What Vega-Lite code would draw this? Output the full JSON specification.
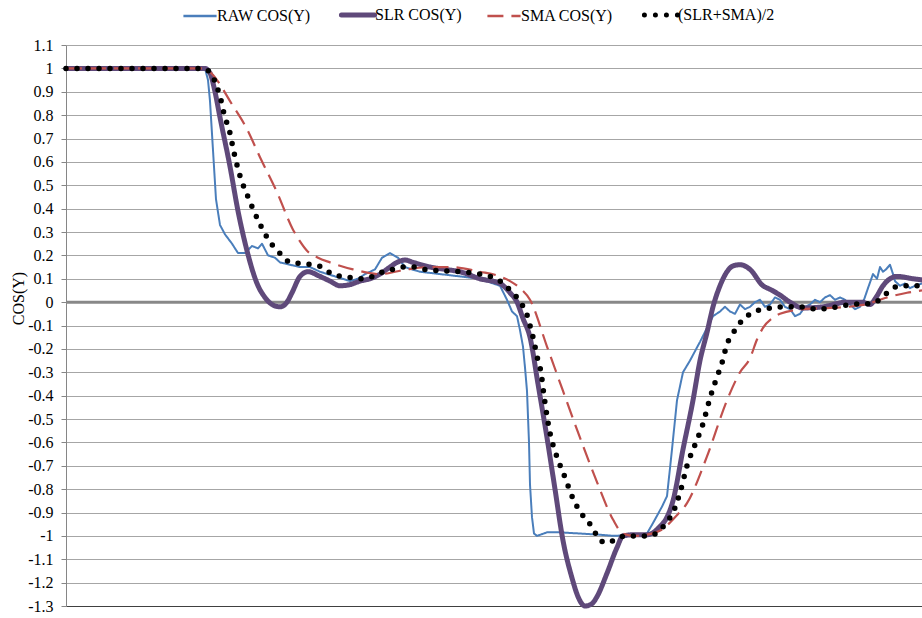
{
"$schema":"https://vega.github.io/schema/vega-lite/v6.json",
"width":856,"height":561,
"autosize":{"type":"none"},
"padding":{"left":66,"top":45,"right":0,"bottom":12},
"background":"white",
"config":{"view":{"stroke":null},"font":"Liberation Serif"},
"data":{"values":[
{"s":"RAW COS(Y)","t":0,"v":1},{"s":"RAW COS(Y)","t":34,"v":1},{"s":"RAW COS(Y)","t":74,"v":1},{"s":"RAW COS(Y)","t":114,"v":1},{"s":"RAW COS(Y)","t":139,"v":1},{"s":"RAW COS(Y)","t":142,"v":0.95},{"s":"RAW COS(Y)","t":144,"v":0.86},{"s":"RAW COS(Y)","t":147,"v":0.65},{"s":"RAW COS(Y)","t":150,"v":0.44},{"s":"RAW COS(Y)","t":154,"v":0.33},{"s":"RAW COS(Y)","t":159,"v":0.29},{"s":"RAW COS(Y)","t":166,"v":0.25},{"s":"RAW COS(Y)","t":172,"v":0.21},{"s":"RAW COS(Y)","t":179,"v":0.21},{"s":"RAW COS(Y)","t":186,"v":0.24},{"s":"RAW COS(Y)","t":192,"v":0.23},{"s":"RAW COS(Y)","t":196,"v":0.25},{"s":"RAW COS(Y)","t":202,"v":0.2},{"s":"RAW COS(Y)","t":209,"v":0.19},{"s":"RAW COS(Y)","t":214,"v":0.17},{"s":"RAW COS(Y)","t":224,"v":0.16},{"s":"RAW COS(Y)","t":234,"v":0.15},{"s":"RAW COS(Y)","t":244,"v":0.15},{"s":"RAW COS(Y)","t":254,"v":0.13},{"s":"RAW COS(Y)","t":269,"v":0.11},{"s":"RAW COS(Y)","t":284,"v":0.09},{"s":"RAW COS(Y)","t":292,"v":0.1},{"s":"RAW COS(Y)","t":299,"v":0.12},{"s":"RAW COS(Y)","t":309,"v":0.14},{"s":"RAW COS(Y)","t":316,"v":0.19},{"s":"RAW COS(Y)","t":324,"v":0.21},{"s":"RAW COS(Y)","t":332,"v":0.19},{"s":"RAW COS(Y)","t":339,"v":0.15},{"s":"RAW COS(Y)","t":346,"v":0.14},{"s":"RAW COS(Y)","t":354,"v":0.13},{"s":"RAW COS(Y)","t":374,"v":0.12},{"s":"RAW COS(Y)","t":394,"v":0.11},{"s":"RAW COS(Y)","t":414,"v":0.1},{"s":"RAW COS(Y)","t":427,"v":0.08},{"s":"RAW COS(Y)","t":434,"v":0.07},{"s":"RAW COS(Y)","t":441,"v":0.01},{"s":"RAW COS(Y)","t":446,"v":-0.04},{"s":"RAW COS(Y)","t":451,"v":-0.06},{"s":"RAW COS(Y)","t":454,"v":-0.12},{"s":"RAW COS(Y)","t":457,"v":-0.19},{"s":"RAW COS(Y)","t":459,"v":-0.28},{"s":"RAW COS(Y)","t":461,"v":-0.38},{"s":"RAW COS(Y)","t":463,"v":-0.6},{"s":"RAW COS(Y)","t":464,"v":-0.78},{"s":"RAW COS(Y)","t":466,"v":-0.92},{"s":"RAW COS(Y)","t":468,"v":-0.99},{"s":"RAW COS(Y)","t":471,"v":-1.0},{"s":"RAW COS(Y)","t":481,"v":-0.985},{"s":"RAW COS(Y)","t":494,"v":-0.985},{"s":"RAW COS(Y)","t":514,"v":-0.99},{"s":"RAW COS(Y)","t":534,"v":-0.995},{"s":"RAW COS(Y)","t":547,"v":-1.0},{"s":"RAW COS(Y)","t":574,"v":-0.995},{"s":"RAW COS(Y)","t":581,"v":-0.99},{"s":"RAW COS(Y)","t":587,"v":-0.945},{"s":"RAW COS(Y)","t":596,"v":-0.875},{"s":"RAW COS(Y)","t":601,"v":-0.83},{"s":"RAW COS(Y)","t":606,"v":-0.63},{"s":"RAW COS(Y)","t":611,"v":-0.42},{"s":"RAW COS(Y)","t":617,"v":-0.3},{"s":"RAW COS(Y)","t":624,"v":-0.25},{"s":"RAW COS(Y)","t":634,"v":-0.17},{"s":"RAW COS(Y)","t":647,"v":-0.06},{"s":"RAW COS(Y)","t":654,"v":-0.04},{"s":"RAW COS(Y)","t":659,"v":-0.02},{"s":"RAW COS(Y)","t":664,"v":-0.04},{"s":"RAW COS(Y)","t":669,"v":-0.05},{"s":"RAW COS(Y)","t":674,"v":-0.01},{"s":"RAW COS(Y)","t":679,"v":-0.03},{"s":"RAW COS(Y)","t":684,"v":-0.02},{"s":"RAW COS(Y)","t":689,"v":0.0},{"s":"RAW COS(Y)","t":694,"v":0.01},{"s":"RAW COS(Y)","t":699,"v":-0.02},{"s":"RAW COS(Y)","t":704,"v":-0.01},{"s":"RAW COS(Y)","t":709,"v":0.02},{"s":"RAW COS(Y)","t":714,"v":0.01},{"s":"RAW COS(Y)","t":719,"v":-0.02},{"s":"RAW COS(Y)","t":724,"v":-0.03},{"s":"RAW COS(Y)","t":729,"v":-0.06},{"s":"RAW COS(Y)","t":734,"v":-0.05},{"s":"RAW COS(Y)","t":739,"v":-0.02},{"s":"RAW COS(Y)","t":744,"v":-0.01},{"s":"RAW COS(Y)","t":749,"v":0.01},{"s":"RAW COS(Y)","t":754,"v":0.0},{"s":"RAW COS(Y)","t":759,"v":0.02},{"s":"RAW COS(Y)","t":764,"v":0.03},{"s":"RAW COS(Y)","t":769,"v":0.01},{"s":"RAW COS(Y)","t":774,"v":0.02},{"s":"RAW COS(Y)","t":779,"v":0.01},{"s":"RAW COS(Y)","t":784,"v":-0.01},{"s":"RAW COS(Y)","t":789,"v":-0.03},{"s":"RAW COS(Y)","t":794,"v":-0.02},{"s":"RAW COS(Y)","t":798,"v":0.01},{"s":"RAW COS(Y)","t":802,"v":0.06},{"s":"RAW COS(Y)","t":807,"v":0.12},{"s":"RAW COS(Y)","t":811,"v":0.1},{"s":"RAW COS(Y)","t":814,"v":0.15},{"s":"RAW COS(Y)","t":817,"v":0.13},{"s":"RAW COS(Y)","t":820,"v":0.14},{"s":"RAW COS(Y)","t":824,"v":0.16},{"s":"RAW COS(Y)","t":827,"v":0.12},{"s":"RAW COS(Y)","t":829,"v":0.09},{"s":"RAW COS(Y)","t":834,"v":0.07},{"s":"RAW COS(Y)","t":839,"v":0.08},{"s":"RAW COS(Y)","t":844,"v":0.06},{"s":"RAW COS(Y)","t":849,"v":0.07},{"s":"RAW COS(Y)","t":856,"v":0.08},
{"s":"SLR COS(Y)","t":0,"v":1},{"s":"SLR COS(Y)","t":139,"v":1},{"s":"SLR COS(Y)","t":144,"v":0.98},{"s":"SLR COS(Y)","t":149,"v":0.9},{"s":"SLR COS(Y)","t":154,"v":0.79},{"s":"SLR COS(Y)","t":164,"v":0.58},{"s":"SLR COS(Y)","t":172,"v":0.39},{"s":"SLR COS(Y)","t":181,"v":0.22},{"s":"SLR COS(Y)","t":191,"v":0.08},{"s":"SLR COS(Y)","t":199,"v":0.02},{"s":"SLR COS(Y)","t":206,"v":-0.01},{"s":"SLR COS(Y)","t":214,"v":-0.02},{"s":"SLR COS(Y)","t":221,"v":0.0},{"s":"SLR COS(Y)","t":226,"v":0.04},{"s":"SLR COS(Y)","t":234,"v":0.11},{"s":"SLR COS(Y)","t":242,"v":0.13},{"s":"SLR COS(Y)","t":254,"v":0.11},{"s":"SLR COS(Y)","t":264,"v":0.09},{"s":"SLR COS(Y)","t":274,"v":0.07},{"s":"SLR COS(Y)","t":284,"v":0.075},{"s":"SLR COS(Y)","t":294,"v":0.09},{"s":"SLR COS(Y)","t":304,"v":0.1},{"s":"SLR COS(Y)","t":314,"v":0.12},{"s":"SLR COS(Y)","t":324,"v":0.15},{"s":"SLR COS(Y)","t":331,"v":0.17},{"s":"SLR COS(Y)","t":339,"v":0.18},{"s":"SLR COS(Y)","t":347,"v":0.17},{"s":"SLR COS(Y)","t":364,"v":0.15},{"s":"SLR COS(Y)","t":379,"v":0.14},{"s":"SLR COS(Y)","t":394,"v":0.13},{"s":"SLR COS(Y)","t":414,"v":0.1},{"s":"SLR COS(Y)","t":434,"v":0.08},{"s":"SLR COS(Y)","t":444,"v":0.04},{"s":"SLR COS(Y)","t":451,"v":0.0},{"s":"SLR COS(Y)","t":457,"v":-0.07},{"s":"SLR COS(Y)","t":464,"v":-0.15},{"s":"SLR COS(Y)","t":472,"v":-0.35},{"s":"SLR COS(Y)","t":481,"v":-0.58},{"s":"SLR COS(Y)","t":489,"v":-0.8},{"s":"SLR COS(Y)","t":497,"v":-1.02},{"s":"SLR COS(Y)","t":506,"v":-1.18},{"s":"SLR COS(Y)","t":512,"v":-1.26},{"s":"SLR COS(Y)","t":519,"v":-1.3},{"s":"SLR COS(Y)","t":526,"v":-1.29},{"s":"SLR COS(Y)","t":531,"v":-1.26},{"s":"SLR COS(Y)","t":541,"v":-1.16},{"s":"SLR COS(Y)","t":551,"v":-1.05},{"s":"SLR COS(Y)","t":557,"v":-1.0},{"s":"SLR COS(Y)","t":569,"v":-0.995},{"s":"SLR COS(Y)","t":581,"v":-0.995},{"s":"SLR COS(Y)","t":594,"v":-0.96},{"s":"SLR COS(Y)","t":601,"v":-0.92},{"s":"SLR COS(Y)","t":607,"v":-0.85},{"s":"SLR COS(Y)","t":617,"v":-0.63},{"s":"SLR COS(Y)","t":627,"v":-0.42},{"s":"SLR COS(Y)","t":634,"v":-0.25},{"s":"SLR COS(Y)","t":641,"v":-0.13},{"s":"SLR COS(Y)","t":647,"v":-0.02},{"s":"SLR COS(Y)","t":654,"v":0.07},{"s":"SLR COS(Y)","t":661,"v":0.13},{"s":"SLR COS(Y)","t":667,"v":0.155},{"s":"SLR COS(Y)","t":674,"v":0.16},{"s":"SLR COS(Y)","t":684,"v":0.14},{"s":"SLR COS(Y)","t":697,"v":0.07},{"s":"SLR COS(Y)","t":704,"v":0.055},{"s":"SLR COS(Y)","t":714,"v":0.03},{"s":"SLR COS(Y)","t":724,"v":0.0},{"s":"SLR COS(Y)","t":737,"v":-0.025},{"s":"SLR COS(Y)","t":757,"v":-0.02},{"s":"SLR COS(Y)","t":781,"v":0.0},{"s":"SLR COS(Y)","t":796,"v":0.0},{"s":"SLR COS(Y)","t":804,"v":-0.01},{"s":"SLR COS(Y)","t":810,"v":0.02},{"s":"SLR COS(Y)","t":817,"v":0.07},{"s":"SLR COS(Y)","t":824,"v":0.1},{"s":"SLR COS(Y)","t":831,"v":0.11},{"s":"SLR COS(Y)","t":847,"v":0.1},{"s":"SLR COS(Y)","t":856,"v":0.095},
{"s":"SMA COS(Y)","t":0,"v":1},{"s":"SMA COS(Y)","t":139,"v":1},{"s":"SMA COS(Y)","t":144,"v":0.985},{"s":"SMA COS(Y)","t":151,"v":0.95},{"s":"SMA COS(Y)","t":164,"v":0.86},{"s":"SMA COS(Y)","t":181,"v":0.74},{"s":"SMA COS(Y)","t":194,"v":0.62},{"s":"SMA COS(Y)","t":211,"v":0.47},{"s":"SMA COS(Y)","t":227,"v":0.31},{"s":"SMA COS(Y)","t":234,"v":0.26},{"s":"SMA COS(Y)","t":241,"v":0.22},{"s":"SMA COS(Y)","t":252,"v":0.19},{"s":"SMA COS(Y)","t":264,"v":0.17},{"s":"SMA COS(Y)","t":287,"v":0.14},{"s":"SMA COS(Y)","t":314,"v":0.12},{"s":"SMA COS(Y)","t":341,"v":0.14},{"s":"SMA COS(Y)","t":364,"v":0.15},{"s":"SMA COS(Y)","t":384,"v":0.15},{"s":"SMA COS(Y)","t":414,"v":0.13},{"s":"SMA COS(Y)","t":434,"v":0.11},{"s":"SMA COS(Y)","t":444,"v":0.09},{"s":"SMA COS(Y)","t":454,"v":0.06},{"s":"SMA COS(Y)","t":464,"v":0.01},{"s":"SMA COS(Y)","t":481,"v":-0.19},{"s":"SMA COS(Y)","t":497,"v":-0.38},{"s":"SMA COS(Y)","t":514,"v":-0.58},{"s":"SMA COS(Y)","t":531,"v":-0.77},{"s":"SMA COS(Y)","t":547,"v":-0.93},{"s":"SMA COS(Y)","t":557,"v":-0.99},{"s":"SMA COS(Y)","t":569,"v":-1.0},{"s":"SMA COS(Y)","t":581,"v":-0.995},{"s":"SMA COS(Y)","t":597,"v":-0.97},{"s":"SMA COS(Y)","t":609,"v":-0.92},{"s":"SMA COS(Y)","t":621,"v":-0.86},{"s":"SMA COS(Y)","t":641,"v":-0.66},{"s":"SMA COS(Y)","t":661,"v":-0.42},{"s":"SMA COS(Y)","t":674,"v":-0.3},{"s":"SMA COS(Y)","t":684,"v":-0.24},{"s":"SMA COS(Y)","t":691,"v":-0.16},{"s":"SMA COS(Y)","t":697,"v":-0.11},{"s":"SMA COS(Y)","t":706,"v":-0.07},{"s":"SMA COS(Y)","t":714,"v":-0.05},{"s":"SMA COS(Y)","t":737,"v":-0.03},{"s":"SMA COS(Y)","t":764,"v":-0.025},{"s":"SMA COS(Y)","t":797,"v":-0.012},{"s":"SMA COS(Y)","t":821,"v":0.02},{"s":"SMA COS(Y)","t":841,"v":0.04},{"s":"SMA COS(Y)","t":856,"v":0.05},
{"s":"(SLR+SMA)/2","t":0,"v":1},{"s":"(SLR+SMA)/2","t":137,"v":1},{"s":"(SLR+SMA)/2","t":146,"v":0.97},{"s":"(SLR+SMA)/2","t":151,"v":0.92},{"s":"(SLR+SMA)/2","t":154,"v":0.88},{"s":"(SLR+SMA)/2","t":159,"v":0.79},{"s":"(SLR+SMA)/2","t":163,"v":0.74},{"s":"(SLR+SMA)/2","t":168,"v":0.64},{"s":"(SLR+SMA)/2","t":174,"v":0.54},{"s":"(SLR+SMA)/2","t":182,"v":0.45},{"s":"(SLR+SMA)/2","t":191,"v":0.36},{"s":"(SLR+SMA)/2","t":202,"v":0.27},{"s":"(SLR+SMA)/2","t":216,"v":0.2},{"s":"(SLR+SMA)/2","t":224,"v":0.17},{"s":"(SLR+SMA)/2","t":236,"v":0.165},{"s":"(SLR+SMA)/2","t":247,"v":0.16},{"s":"(SLR+SMA)/2","t":256,"v":0.15},{"s":"(SLR+SMA)/2","t":266,"v":0.12},{"s":"(SLR+SMA)/2","t":276,"v":0.11},{"s":"(SLR+SMA)/2","t":286,"v":0.105},{"s":"(SLR+SMA)/2","t":296,"v":0.1},{"s":"(SLR+SMA)/2","t":307,"v":0.11},{"s":"(SLR+SMA)/2","t":317,"v":0.13},{"s":"(SLR+SMA)/2","t":327,"v":0.14},{"s":"(SLR+SMA)/2","t":337,"v":0.15},{"s":"(SLR+SMA)/2","t":347,"v":0.15},{"s":"(SLR+SMA)/2","t":359,"v":0.14},{"s":"(SLR+SMA)/2","t":394,"v":0.13},{"s":"(SLR+SMA)/2","t":414,"v":0.12},{"s":"(SLR+SMA)/2","t":424,"v":0.11},{"s":"(SLR+SMA)/2","t":434,"v":0.09},{"s":"(SLR+SMA)/2","t":442,"v":0.06},{"s":"(SLR+SMA)/2","t":449,"v":0.03},{"s":"(SLR+SMA)/2","t":456,"v":-0.01},{"s":"(SLR+SMA)/2","t":461,"v":-0.055},{"s":"(SLR+SMA)/2","t":464,"v":-0.1},{"s":"(SLR+SMA)/2","t":467,"v":-0.15},{"s":"(SLR+SMA)/2","t":472,"v":-0.25},{"s":"(SLR+SMA)/2","t":475,"v":-0.3},{"s":"(SLR+SMA)/2","t":478,"v":-0.4},{"s":"(SLR+SMA)/2","t":484,"v":-0.56},{"s":"(SLR+SMA)/2","t":490,"v":-0.65},{"s":"(SLR+SMA)/2","t":499,"v":-0.75},{"s":"(SLR+SMA)/2","t":507,"v":-0.84},{"s":"(SLR+SMA)/2","t":518,"v":-0.92},{"s":"(SLR+SMA)/2","t":526,"v":-0.96},{"s":"(SLR+SMA)/2","t":534,"v":-1.02},{"s":"(SLR+SMA)/2","t":542,"v":-1.03},{"s":"(SLR+SMA)/2","t":551,"v":-1.01},{"s":"(SLR+SMA)/2","t":561,"v":-1.0},{"s":"(SLR+SMA)/2","t":584,"v":-1.0},{"s":"(SLR+SMA)/2","t":594,"v":-0.975},{"s":"(SLR+SMA)/2","t":601,"v":-0.94},{"s":"(SLR+SMA)/2","t":607,"v":-0.9},{"s":"(SLR+SMA)/2","t":615,"v":-0.8},{"s":"(SLR+SMA)/2","t":621,"v":-0.7},{"s":"(SLR+SMA)/2","t":629,"v":-0.61},{"s":"(SLR+SMA)/2","t":637,"v":-0.52},{"s":"(SLR+SMA)/2","t":644,"v":-0.41},{"s":"(SLR+SMA)/2","t":651,"v":-0.32},{"s":"(SLR+SMA)/2","t":656,"v":-0.26},{"s":"(SLR+SMA)/2","t":661,"v":-0.18},{"s":"(SLR+SMA)/2","t":666,"v":-0.14},{"s":"(SLR+SMA)/2","t":672,"v":-0.1},{"s":"(SLR+SMA)/2","t":681,"v":-0.06},{"s":"(SLR+SMA)/2","t":689,"v":-0.04},{"s":"(SLR+SMA)/2","t":699,"v":-0.03},{"s":"(SLR+SMA)/2","t":719,"v":-0.02},{"s":"(SLR+SMA)/2","t":731,"v":-0.02},{"s":"(SLR+SMA)/2","t":753,"v":-0.03},{"s":"(SLR+SMA)/2","t":764,"v":-0.025},{"s":"(SLR+SMA)/2","t":786,"v":-0.01},{"s":"(SLR+SMA)/2","t":807,"v":-0.005},{"s":"(SLR+SMA)/2","t":816,"v":0.02},{"s":"(SLR+SMA)/2","t":824,"v":0.05},{"s":"(SLR+SMA)/2","t":834,"v":0.07},{"s":"(SLR+SMA)/2","t":856,"v":0.07}
]},
"encoding":{
 "y":{"field":"v","type":"quantitative","scale":{"domain":[-1.3,1.1],"nice":false,"zero":false},
  "axis":{"values":[-1.3,-1.2,-1.1,-1,-0.9,-0.8,-0.7,-0.6,-0.5,-0.4,-0.3,-0.2,-0.1,0,0.1,0.2,0.3,0.4,0.5,0.6,0.7,0.8,0.9,1,1.1],
   "labelExpr":"replace(format(datum.value, '.1~f'), '\u2212', '-')",
   "grid":true,"gridColor":"#a6a6a6","gridWidth":1,"domainColor":"#868686","tickColor":"#868686","tickSize":5,
   "labelFont":"Liberation Serif","labelFontSize":16,"labelColor":"#000000","labelPadding":8,
   "title":"COS(Y)","titleFont":"Liberation Serif","titleFontSize":16,"titleFontWeight":"normal","titleColor":"#000000",
   "titleX":-48,"titleY":253,"titleAngle":-90,"titleAlign":"center","titleBaseline":"middle"}}
},
"layer":[
 {"data":{"values":[{"v":0}]},"mark":{"type":"rule","color":"#888888","strokeWidth":3},"encoding":{}},
 {"transform":[{"filter":"datum.s === 'RAW COS(Y)'"}],
  "mark":{"type":"line","interpolate":"linear","strokeWidth":2,"strokeCap":"round","strokeJoin":"round"},
  "encoding":{
   "x":{"field":"t","type":"quantitative","scale":{"domain":[0,856],"nice":false,"zero":false},"axis":{"labels":false,"ticks":false,"grid":false,"domainColor":"#404040","title":null}},
   "color":{"field":"s","type":"nominal","scale":{"domain":["RAW COS(Y)","SLR COS(Y)","SMA COS(Y)","(SLR+SMA)/2"],"range":["#4a7ebb","#5f497a","#c0504d","#000000"]},
     "legend":{"title":null,"orient":"none","legendX":126,"legendY":-38,"offset":0,"direction":"horizontal",
       "labelFont":"Liberation Serif","labelFontSize":16,"labelColor":"#000000","symbolType":"stroke","symbolSize":1100,"symbolStrokeWidth":2,
       "labelOffset":9,"columnPadding":20,"padding":0,"labelLimit":300,
       "encode":{"symbols":{"update":{
       "strokeCap":{"signal":"(datum.value === 'SLR COS(Y)' || datum.value === '(SLR+SMA)/2') ? 'round' : 'butt'"},
       "strokeWidth":{"signal":"(datum.value === 'SLR COS(Y)' || datum.value === '(SLR+SMA)/2') ? 5 : 2.5"},
       "strokeDash":{"signal":"datum.value === 'SMA COS(Y)' ? [22,100] : (datum.value === '(SLR+SMA)/2' ? [0,11,0,11,0,100] : [1,0])"}}}}}},
   "strokeDash":{"field":"s","type":"nominal","scale":{"domain":["RAW COS(Y)","SLR COS(Y)","SMA COS(Y)","(SLR+SMA)/2"],"range":[[1,0],[1,0],[16,8],[0,11]]},"legend":null}
  }},
 {"transform":[{"filter":"datum.s === 'SLR COS(Y)'"}],
  "mark":{"type":"line","interpolate":"monotone","strokeWidth":5,"strokeCap":"round","strokeJoin":"round"},
  "encoding":{
   "x":{"field":"t","type":"quantitative"},
   "color":{"field":"s","type":"nominal"},
   "strokeDash":{"field":"s","type":"nominal","legend":null}
  }},
 {"transform":[{"filter":"datum.s === 'SMA COS(Y)'"}],
  "mark":{"type":"line","interpolate":"monotone","strokeWidth":2.2,"strokeCap":"butt"},
  "encoding":{
   "x":{"field":"t","type":"quantitative"},
   "color":{"field":"s","type":"nominal"},
   "strokeDash":{"field":"s","type":"nominal","legend":null}
  }},
 {"transform":[{"filter":"datum.s === '(SLR+SMA)/2'"}],
  "mark":{"type":"line","interpolate":"monotone","strokeWidth":5.5,"strokeCap":"round"},
  "encoding":{
   "x":{"field":"t","type":"quantitative"},
   "color":{"field":"s","type":"nominal"},
   "strokeDash":{"field":"s","type":"nominal","legend":null}
  }}
]
}
